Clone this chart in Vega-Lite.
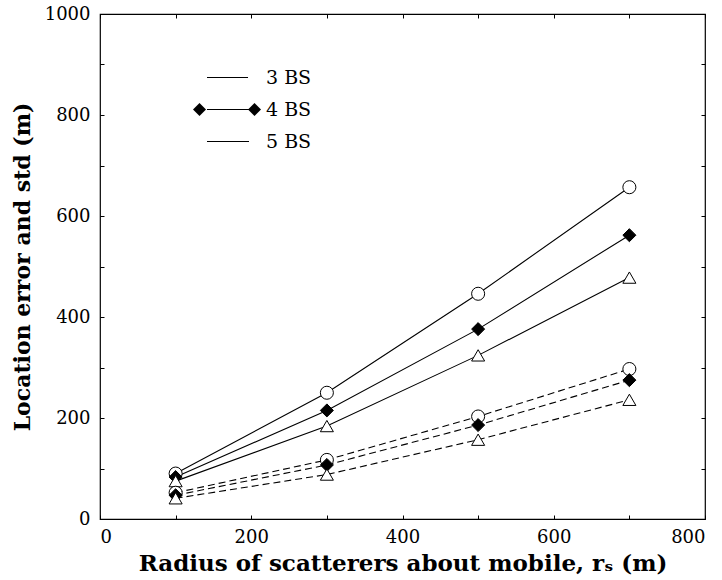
{
  "$schema": "https://vega.github.io/schema/vega-lite/v6.json",
  "autosize": {"type": "none"},
  "padding": {"left": 100, "top": 14, "right": 17, "bottom": 61},
  "width": 605,
  "height": 505,
  "background": "white",
  "data": {
    "values": [
      {"r": 100, "val": 90, "bs": "3 BS", "kind": "error"},
      {"r": 300, "val": 250, "bs": "3 BS", "kind": "error"},
      {"r": 500, "val": 446, "bs": "3 BS", "kind": "error"},
      {"r": 700, "val": 657, "bs": "3 BS", "kind": "error"},
      {"r": 100, "val": 83, "bs": "4 BS", "kind": "error"},
      {"r": 300, "val": 215, "bs": "4 BS", "kind": "error"},
      {"r": 500, "val": 376, "bs": "4 BS", "kind": "error"},
      {"r": 700, "val": 562, "bs": "4 BS", "kind": "error"},
      {"r": 100, "val": 75, "bs": "5 BS", "kind": "error"},
      {"r": 300, "val": 184, "bs": "5 BS", "kind": "error"},
      {"r": 500, "val": 324, "bs": "5 BS", "kind": "error"},
      {"r": 700, "val": 478, "bs": "5 BS", "kind": "error"},
      {"r": 100, "val": 52, "bs": "3 BS", "kind": "std"},
      {"r": 300, "val": 117, "bs": "3 BS", "kind": "std"},
      {"r": 500, "val": 203, "bs": "3 BS", "kind": "std"},
      {"r": 700, "val": 297, "bs": "3 BS", "kind": "std"},
      {"r": 100, "val": 47, "bs": "4 BS", "kind": "std"},
      {"r": 300, "val": 107, "bs": "4 BS", "kind": "std"},
      {"r": 500, "val": 186, "bs": "4 BS", "kind": "std"},
      {"r": 700, "val": 275, "bs": "4 BS", "kind": "std"},
      {"r": 100, "val": 41, "bs": "5 BS", "kind": "std"},
      {"r": 300, "val": 88, "bs": "5 BS", "kind": "std"},
      {"r": 500, "val": 157, "bs": "5 BS", "kind": "std"},
      {"r": 700, "val": 236, "bs": "5 BS", "kind": "std"}
    ]
  },
  "layer": [
    {
      "transform": [{"filter": "datum.kind === 'error'"}],
      "mark": {"type": "line", "strokeWidth": 1.1},
      "encoding": {
        "x": {
          "field": "r", "type": "quantitative",
          "scale": {"domain": [0, 800], "nice": false, "zero": false},
          "axis": {"orient": "bottom", "values": [0, 200, 400, 600, 800], "format": "d", "ticks": false, "domain": false, "grid": false, "labelPadding": 9, "title": "Radius of scatterers about mobile, rₛ (m)", "titlePadding": 6, "titleFontSize": 23}
        },
        "y": {
          "field": "val", "type": "quantitative",
          "scale": {"domain": [0, 1000], "nice": false, "zero": false},
          "axis": {"orient": "left", "values": [0, 200, 400, 600, 800, 1000], "format": "d", "ticks": false, "domain": false, "grid": false, "labelPadding": 10, "title": "Location error and std (m)", "titlePadding": 10}
        },
        "stroke": {
          "field": "bs", "type": "nominal",
          "scale": {"domain": ["3 BS", "4 BS", "5 BS"], "range": ["black", "black", "black"]},
          "legend": {
            "title": null,
            "orient": "none",
            "legendX": 118.5,
            "legendY": 54,
            "padding": 0,
            "rowPadding": 12,
            "labelFont": "DejaVu Serif",
            "labelFontSize": 19,
            "labelExpr": "''",
            "symbolType": "M -3 0 L 3 0",
            "symbolSize": 196,
            "symbolStrokeWidth": 1,
            "symbolOpacity": 1
          }
        }
      }
    },
    {
      "transform": [{"filter": "datum.kind === 'std'"}],
      "mark": {"type": "line", "color": "black", "strokeWidth": 1.1, "strokeDash": [7, 4]},
      "encoding": {
        "x": {
          "field": "r", "type": "quantitative",
          "axis": {"orient": "top", "values": [0, 100, 200, 300, 400, 500, 600, 700, 800], "labels": false, "title": null, "domain": false, "grid": false, "tickSize": -4, "tickColor": "black"}
        },
        "y": {
          "field": "val", "type": "quantitative",
          "axis": {"orient": "right", "values": [0, 100, 200, 300, 400, 500, 600, 700, 800, 900, 1000], "labels": false, "title": null, "domain": false, "grid": false, "tickSize": -4, "tickColor": "black"}
        },
        "detail": {"field": "bs"}
      }
    },
    {
      "transform": [{"filter": "datum.kind === 'error'"}],
      "mark": {"type": "point", "filled": true, "stroke": "black", "strokeWidth": 1, "size": 170, "opacity": 1},
      "encoding": {
        "x": {
          "field": "r", "type": "quantitative",
          "axis": {"orient": "bottom", "values": [0, 100, 200, 300, 400, 500, 600, 700, 800], "labels": false, "title": null, "domain": false, "grid": false, "tickSize": -4, "tickColor": "black"}
        },
        "y": {
          "field": "val", "type": "quantitative",
          "axis": {"orient": "left", "values": [0, 100, 200, 300, 400, 500, 600, 700, 800, 900, 1000], "labels": false, "title": null, "domain": false, "grid": false, "tickSize": -4, "tickColor": "black"}
        },
        "fill": {
          "field": "bs", "type": "nominal",
          "scale": {"domain": ["3 BS", "4 BS", "5 BS"], "range": ["white", "black", "white"]},
          "legend": {
            "title": null,
            "orient": "none",
            "legendX": 90,
            "legendY": 54,
            "padding": 0,
            "rowPadding": 12,
            "labelFont": "DejaVu Serif",
            "labelFontSize": 19,
            "labelExpr": "''",
            "symbolSize": 170,
            "symbolStrokeColor": "black",
            "symbolStrokeWidth": 1,
            "symbolOpacity": 1
          }
        },
        "shape": {
          "field": "bs", "type": "nominal",
          "scale": {"domain": ["3 BS", "4 BS", "5 BS"], "range": ["circle", "diamond", "triangle-up"]},
          "legend": {
            "title": null,
            "orient": "none",
            "legendX": 90,
            "legendY": 54,
            "padding": 0,
            "rowPadding": 12,
            "labelFont": "DejaVu Serif",
            "labelFontSize": 19,
            "labelExpr": "''",
            "symbolSize": 170,
            "symbolStrokeColor": "black",
            "symbolStrokeWidth": 1,
            "symbolOpacity": 1
          }
        }
      }
    },
    {
      "transform": [{"filter": "datum.kind === 'std'"}],
      "mark": {"type": "point", "filled": true, "stroke": "black", "strokeWidth": 1, "size": 170, "opacity": 1},
      "encoding": {
        "x": {"field": "r", "type": "quantitative", "axis": null},
        "y": {"field": "val", "type": "quantitative", "axis": null},
        "fill": {
          "field": "bs", "type": "nominal",
          "scale": {"domain": ["3 BS", "4 BS", "5 BS"], "range": ["white", "black", "white"]},
          "legend": {
            "title": null,
            "orient": "none",
            "legendX": 145,
            "legendY": 54,
            "padding": 0,
            "rowPadding": 12,
            "labelOffset": 2,
            "labelFont": "DejaVu Serif",
            "labelFontSize": 19,
            "labelColor": "black",
            "symbolSize": 170,
            "symbolStrokeColor": "black",
            "symbolStrokeWidth": 1,
            "symbolOpacity": 1
          }
        },
        "shape": {
          "field": "bs", "type": "nominal",
          "scale": {"domain": ["3 BS", "4 BS", "5 BS"], "range": ["circle", "diamond", "triangle-up"]},
          "legend": {
            "title": null,
            "orient": "none",
            "legendX": 145,
            "legendY": 54,
            "padding": 0,
            "rowPadding": 12,
            "labelOffset": 2,
            "labelFont": "DejaVu Serif",
            "labelFontSize": 19,
            "labelColor": "black",
            "symbolSize": 170,
            "symbolStrokeColor": "black",
            "symbolStrokeWidth": 1,
            "symbolOpacity": 1
          }
        }
      }
    }
  ],
  "resolve": {
    "axis": {"x": "independent", "y": "independent"},
    "scale": {"shape": "independent", "fill": "independent"},
    "legend": {"shape": "independent", "fill": "independent"}
  },
  "config": {
    "view": {"stroke": "black", "strokeWidth": 1.2},
    "axis": {
      "labelFont": "DejaVu Serif",
      "labelFontSize": 18,
      "labelColor": "black",
      "titleFont": "DejaVu Serif",
      "titleFontSize": 22,
      "titleFontWeight": "bold",
      "titleColor": "black"
    }
  }
}
